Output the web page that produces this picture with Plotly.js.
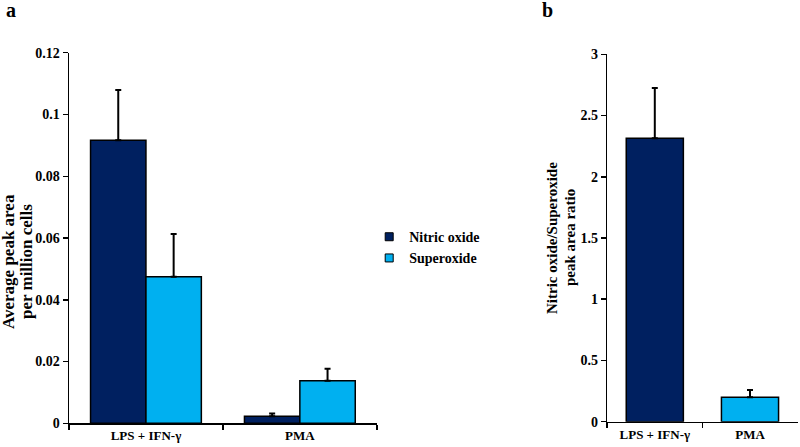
<!DOCTYPE html>
<html>
<head>
<meta charset="utf-8">
<script src="https://cdn.plot.ly/plotly-3.0.1.min.js"></script>
<style>html,body{margin:0;padding:0;background:#fff;}#chart{width:800px;height:447px;}</style>
</head>
<body>
<div id="chart"></div>
<script>
// Data
const categories = ["LPS + IFN-γ", "PMA"];
const seriesNames = ["Nitric oxide", "Superoxide"];
const nitricOxide = [0.0917, 0.0023];
const nitricOxideErr = [0.0162, 0.0009];
const superoxide = [0.0475, 0.0138];
const superoxideErr = [0.0138, 0.0039];
const ratio = [2.315, 0.199];
const ratioErr = [0.41, 0.06];
const yTicksA = [0, 0.02, 0.04, 0.06, 0.08, 0.1, 0.12];
const yTicksB = [0, 0.5, 1, 1.5, 2, 2.5, 3];

const NAVY = "#002060";
const SKY = "#00B0F0";
const FONT = "Liberation Serif, Times New Roman, serif";

const errStyle = (arr) => ({type: "data", symmetric: false, array: arr, arrayminus: arr.map(() => 0), color: "#000", thickness: 2, width: 3});

const traces = [
  {type: "bar", name: seriesNames[0], x: categories, y: nitricOxide, xaxis: "x", yaxis: "y", showlegend: false,
   marker: {color: NAVY, line: {color: "#000", width: 1.5}}, width: 0.36, offset: -0.36,
   error_y: errStyle(nitricOxideErr)},
  {type: "bar", name: seriesNames[1], x: categories, y: superoxide, xaxis: "x", yaxis: "y", showlegend: false,
   marker: {color: SKY, line: {color: "#000", width: 1.5}}, width: 0.36, offset: 0,
   error_y: errStyle(superoxideErr)},
  {type: "bar", name: "Ratio", x: categories, y: ratio, xaxis: "x2", yaxis: "y2", showlegend: false,
   marker: {color: [NAVY, SKY], line: {color: "#000", width: 1.5}}, width: 0.6,
   error_y: errStyle(ratioErr)},
  // legend entries (small square keys, as in the original)
  {type: "scatter", mode: "markers", name: seriesNames[0], x: [null], y: [null], xaxis: "x", yaxis: "y",
   marker: {symbol: "square", size: 8, color: NAVY, line: {color: "#000", width: 1}}},
  {type: "scatter", mode: "markers", name: seriesNames[1], x: [null], y: [null], xaxis: "x", yaxis: "y",
   marker: {symbol: "square", size: 8, color: SKY, line: {color: "#000", width: 1}}}
];

const tickFont = {family: FONT, size: 14, color: "#000", weight: "bold"};
const axisCommon = {showline: true, linecolor: "#000", linewidth: 1.5, ticks: "outside", ticklen: 5, tickwidth: 1.5, tickcolor: "#000", showgrid: false, zeroline: false, tickfont: tickFont, fixedrange: true};
const xTickFont = {family: FONT, size: 13, color: "#000", weight: "bold"};

const layout = {
  width: 800, height: 447,
  margin: {l: 0, r: 0, t: 0, b: 0},
  paper_bgcolor: "#fff", plot_bgcolor: "#fff",
  showlegend: true,
  legend: {x: 0.4615, y: 0.446, xanchor: "left", yanchor: "middle", font: {family: FONT, size: 14, color: "#000", weight: "bold"}, bgcolor: "rgba(0,0,0,0)", tracegroupgap: 0},
  xaxis: Object.assign({}, axisCommon, {domain: [0.08625, 0.471], type: "category", categoryarray: categories, range: [-0.5, 1.5], tickson: "boundaries", anchor: "y", tickfont: xTickFont}),
  yaxis: Object.assign({}, axisCommon, {domain: [0.053, 0.882], range: [0, 0.12], tickvals: yTicksA, ticktext: yTicksA.map(String), anchor: "x"}),
  xaxis2: Object.assign({}, axisCommon, {domain: [0.759, 0.997], type: "category", tickson: "boundaries", anchor: "y2", tickfont: xTickFont}),
  yaxis2: Object.assign({}, axisCommon, {domain: [0.0566, 0.8785], range: [0, 3], tickvals: yTicksB, ticktext: yTicksB.map(String), anchor: "x2"}),
  annotations: [
    {text: "a", xref: "paper", yref: "paper", x: 4/800, y: 1 - 10/447, xanchor: "left", yanchor: "middle", showarrow: false, font: {family: FONT, size: 20, color: "#000", weight: "bold"}},
    {text: "b", xref: "paper", yref: "paper", x: 547/800, y: 1 - 10/447, xanchor: "center", yanchor: "middle", showarrow: false, font: {family: FONT, size: 20, color: "#000", weight: "bold"}},
    {text: "Average peak area", xref: "paper", yref: "paper", x: 8/800, y: 1 - 262/447, xanchor: "center", yanchor: "middle", textangle: -90, showarrow: false, font: {family: FONT, size: 17, color: "#000", weight: "bold"}},
    {text: "per million cells", xref: "paper", yref: "paper", x: 26/800, y: 1 - 262/447, xanchor: "center", yanchor: "middle", textangle: -90, showarrow: false, font: {family: FONT, size: 17, color: "#000", weight: "bold"}},
    {text: "Nitric oxide/Superoxide", xref: "paper", yref: "paper", x: 552/800, y: 1 - 238/447, xanchor: "center", yanchor: "middle", textangle: -90, showarrow: false, font: {family: FONT, size: 15, color: "#000", weight: "bold"}},
    {text: "peak area ratio", xref: "paper", yref: "paper", x: 570/800, y: 1 - 238/447, xanchor: "center", yanchor: "middle", textangle: -90, showarrow: false, font: {family: FONT, size: 15, color: "#000", weight: "bold"}}
  ]
};

Plotly.newPlot("chart", traces, layout, {displayModeBar: false, staticPlot: true});
</script>
</body>
</html>
